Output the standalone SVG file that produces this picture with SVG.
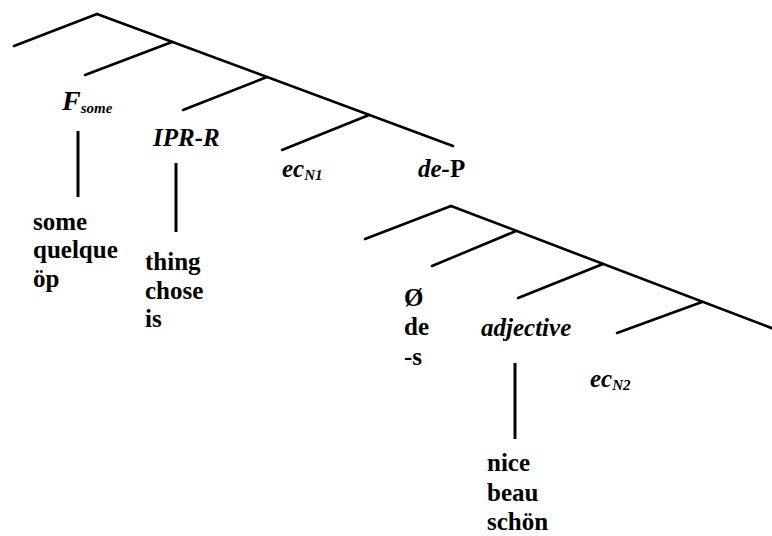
<svg xmlns="http://www.w3.org/2000/svg" width="772" height="536" viewBox="0 0 772 536">
<style>
.ln{stroke:#000;stroke-width:2.6;fill:none;stroke-linecap:round}
.vl{stroke:#000;stroke-width:3;fill:none}
.t{font-family:"Liberation Serif","Times New Roman",serif;font-weight:bold;font-size:25px;fill:#000}
.i{font-family:"Liberation Serif","Times New Roman",serif;font-weight:bold;font-style:italic;font-size:25px;fill:#000}
.s{font-size:15px}
</style>
<rect width="772" height="536" fill="#fff"/>
<g id="connectors">
<line class="ln" x1="97" y1="14" x2="14" y2="46"/>
<line class="ln" x1="97" y1="14" x2="453" y2="146"/>
<line class="ln" x1="172" y1="42" x2="85" y2="75"/>
<line class="ln" x1="267" y1="77" x2="183" y2="110"/>
<line class="ln" x1="369" y1="115" x2="282" y2="150"/>
<line class="vl" x1="78" y1="131" x2="78" y2="197"/>
<line class="vl" x1="176" y1="163" x2="176" y2="232"/>
<line class="ln" x1="451" y1="206" x2="365" y2="239"/>
<line class="ln" x1="451" y1="206" x2="774" y2="329"/>
<line class="ln" x1="516" y1="231" x2="432" y2="266"/>
<line class="ln" x1="603" y1="264" x2="518" y2="298"/>
<line class="ln" x1="702" y1="302" x2="617" y2="333"/>
<line class="vl" x1="515" y1="363" x2="515" y2="439"/>
</g>
<g id="n-fsome"><text class="i" x="62" y="110" style="font-size:28px">F<tspan class="s" dy="3">some</tspan></text></g>
<g id="n-iprr"><text class="i" x="153" y="146">IPR-R</text></g>
<g id="n-ecn1"><text class="i" x="282" y="177">ec<tspan class="s" dy="3">N1</tspan></text></g>
<g id="n-dep"><text class="i" x="418" y="177">de-<tspan font-style="normal">P</tspan></text></g>
<g id="n-some"><text class="t" x="33" y="230">some</text><text class="t" x="33" y="258">quelque</text><text class="t" x="33" y="287">öp</text></g>
<g id="n-thing"><text class="t" x="145" y="270">thing</text><text class="t" x="145" y="299">chose</text><text class="t" x="145" y="327">is</text></g>
<g id="n-zero"><text class="t" x="404" y="306">Ø</text><text class="t" x="404" y="335">de</text><text class="t" x="404" y="365">-s</text></g>
<g id="n-adj"><text class="i" x="481" y="336">adjective</text></g>
<g id="n-ecn2"><text class="i" x="590" y="387">ec<tspan class="s" dy="3">N2</tspan></text></g>
<g id="n-nice"><text class="t" x="487" y="471">nice</text><text class="t" x="487" y="501">beau</text><text class="t" x="487" y="530">schön</text></g>
</svg>
